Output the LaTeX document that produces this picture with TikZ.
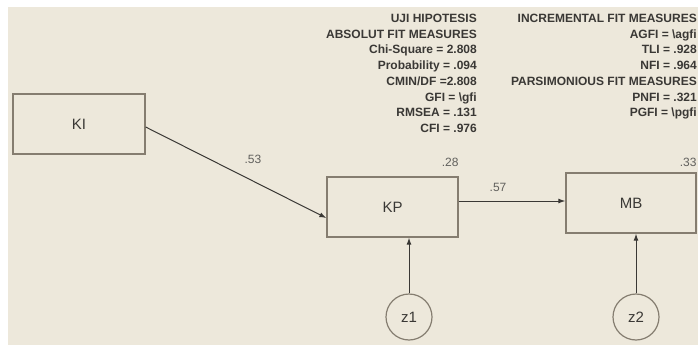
\documentclass[tikz,border=0pt]{standalone}
\usepackage{fontspec}
\setmainfont{Liberation Sans}
\usepackage{tikz}
\usetikzlibrary{positioning,arrows.meta}
\definecolor{bg}{HTML}{EDE8DB}
\definecolor{edge}{HTML}{857D70}
\definecolor{ink}{HTML}{3A3835}

\begin{document}
\begin{tikzpicture}[
		x=1pt, y=-1pt
		,v/.style={draw=edge, line width=1.3pt, fill=bg, minimum width=131pt, minimum height=60pt, inner sep=0pt, text=ink, font=\fontsize{15}{18}\selectfont}
		,err/.style={draw=edge, line width=1.2pt, circle, fill=bg, minimum size=46pt, inner sep=0pt, text=ink, font=\fontsize{15}{18}\selectfont}
		,arr/.style={draw=ink, line width=1pt, -{Latex[length=7pt,width=5pt]}}
		,num/.style={text=ink!80, inner sep=0pt, font=\fontsize{12}{14}\selectfont}
		,gof/.style={text=ink, inner sep=0pt, align=right, anchor=north east, font=\bfseries\fontsize{12}{15.7}\selectfont}
	]
		\useasboundingbox (0,0) rectangle (698,345);
		\fill[white] (0,0) rectangle (698,345);
		\fill[bg] (8,7) rectangle (698,345);

		\node[v, minimum width=132pt] (KI) at (79,124) {KI};
		\node[v] (KP) at (392.5,207) {KP};
		\node[v, minimum width=130pt] (MB) at (631,203) {MB};
		\node[err] (z1) at (409,317) {z1};
		\node[err] (z2) at (636,317) {z2};

		\draw[arr] ([yshift=-3pt]KI.east) -- ([yshift=-11pt]KP.west);
		\draw[arr] ([yshift=6pt]KP.east) -- ([yshift=2pt]MB.west);
		\draw[arr] (z1) -- (z1 |- KP.south);
		\draw[arr] (z2) -- (z2 |- MB.south);

		\node[num] (w53) at (253,159) {.53};
		\node[num] (w57) at (498,187) {.57};
		\node[num, anchor=south east] (r28) at ([yshift=10pt]KP.north east) {.28};
		\node[num, anchor=south east] (r33) at ([yshift=6pt]MB.north east) {.33};

		\node[gof] (uji) at (477,14) {UJI HIPOTESIS\\ABSOLUT FIT MEASURES\\Chi-Square = 2.808\\Probability = .094\\CMIN/DF =2.808\\GFI = \textbackslash gfi\\RMSEA = .131\\CFI = .976};
		\node[gof] (inc) at (697,14) {INCREMENTAL FIT MEASURES\\AGFI = \textbackslash agfi\\TLI = .928\\NFI = .964\\PARSIMONIOUS FIT MEASURES\\PNFI = .321\\PGFI = \textbackslash pgfi};
	\end{tikzpicture}
\end{document}
